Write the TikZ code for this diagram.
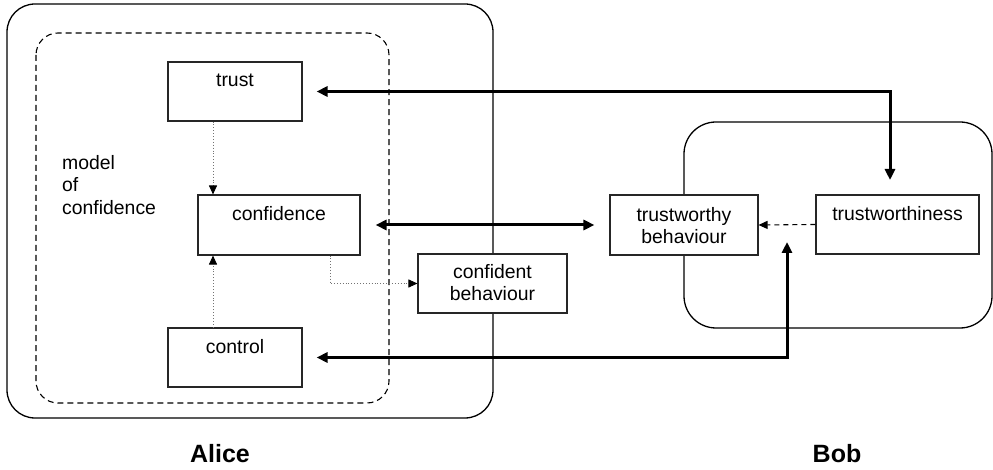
\documentclass[tikz,border=0pt]{standalone}
\usepackage{fontspec}
\setmainfont{Liberation Sans}
\usetikzlibrary{arrows.meta,calc}
\begin{document}
\begin{tikzpicture}[x=1pt,y=-1pt,
  box/.style={draw=black!85,line width=1.1pt,minimum width=#1,inner sep=0pt},
  txt/.style={font=\fontsize{19.4}{21.5}\selectfont,inner sep=0pt,align=center,anchor=north},
  agent/.style={font=\fontsize{25}{28}\selectfont\bfseries,inner sep=0pt,anchor=base},
  realm/.style={draw,line width=1.3pt,rounded corners=28pt},
  link/.style={line width=3pt,{Triangle[length=11pt,width=10pt]}-{Triangle[length=11pt,width=10pt]}},
  hint/.style={draw=black!55,line width=0.9pt,dotted,-{Triangle[length=9pt,width=8pt,color=black]}},
  cue/.style={line width=1.1pt,dash pattern=on 5pt off 4pt,-{Triangle[length=9pt,width=8pt]}}]
\useasboundingbox (0,0) rectangle (993,470);

% the two parties
\draw[realm] (7,4) rectangle (493,418);
\draw[realm,line width=1.1pt,dash pattern=on 6pt off 4pt,rounded corners=22pt] (36,33) rectangle (389,403);
\draw[realm,rounded corners=32pt] (684,122) rectangle (992,328);

% boxes
\node[box=134pt,minimum height=59pt] (trust) at (235,91.5) {};
\node[box=162pt,minimum height=60pt] (conf) at (279,225) {};
\node[box=134pt,minimum height=59pt] (ctrl) at (235,357.5) {};
\node[box=149pt,minimum height=59pt,fill=white] (cb) at (492.5,283.5) {};
\node[box=148pt,minimum height=60pt,fill=white] (twb) at (684,225) {};
\node[box=163pt,minimum height=59pt] (tw) at (897.5,224.5) {};

% texts
\node[txt] (trustT) at ($(trust.north)+(0,12)$) {trust};
\node[txt] (confT) at ($(conf.north)+(0,12)$) {confidence};
\node[txt] (ctrlT) at ($(ctrl.north)+(0,12)$) {control};
\node[txt] (cbT) at ($(cb.north)+(0,11)$) {confident\\behaviour};
\node[txt] (twbT) at ($(twb.north)+(0,13)$) {trustworthy\\behaviour};
\node[txt] (twT) at ($(tw.north)+(0,12)$) {trustworthiness};
\node[txt,align=left,anchor=north west,font=\fontsize{19.4}{22.5}\selectfont] (model) at (62,155) {model\\of\\confidence};

\node[agent] (alice) at (220,462) {Alice};
\node[agent] (bob) at (837,462) {Bob};

% inner influences
\coordinate (col) at (213,0);
\draw[hint] (trust.south -| col) -- (conf.north -| col);
\draw[hint] (ctrl.north -| col) -- (conf.south -| col);
\coordinate (cbx) at (330,0);
\draw[hint] (conf.south -| cbx) |- (cb.west);

% exchanges between the parties
\coordinate (twin) at (890,180);
\coordinate (twbin) at (787,242);
\draw[link,shorten <=14pt] (trust.east) -| (twin);
\draw[link,shorten <=15pt,shorten >=15pt] (conf.east) -- (twb.west);
\draw[link,shorten <=14pt] (ctrl.east) -| (twbin);
\draw[cue] (tw.west) -- (twb.east);
\end{tikzpicture}
\end{document}
